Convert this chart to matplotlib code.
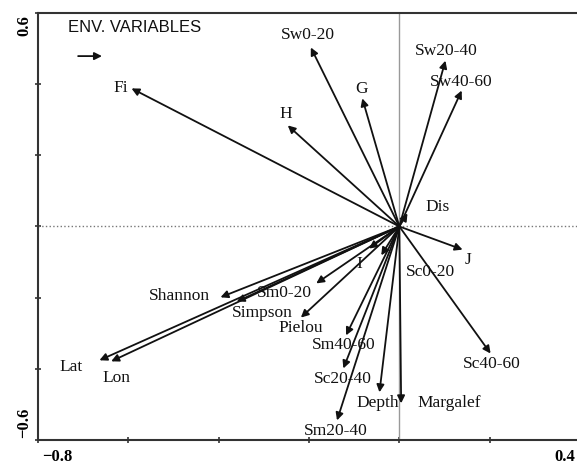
import matplotlib
matplotlib.use("Agg")
import matplotlib.pyplot as plt

# biplot scores of the environmental variables (axis 1, axis 2)
names = ["Fi", "H", "Sw0-20", "G", "Sw20-40", "Sw40-60", "Dis", "J", "Sc0-20",
         "Sc40-60", "Margalef", "Depth", "Sm20-40", "Sc20-40", "Sm40-60",
         "Pielou", "Sm0-20", "I", "Shannon", "Simpson", "Lat", "Lon"]
axis1 = [-0.593, -0.247, -0.196, -0.082, 0.102, 0.138, 0.018, 0.140, -0.040,
         0.202, 0.004, -0.044, -0.138, -0.124, -0.118,
         -0.218, -0.184, -0.067, -0.396, -0.360, -0.664, -0.638]
axis2 = [0.388, 0.284, 0.503, 0.360, 0.466, 0.382, 0.037, -0.065, -0.081,
         -0.357, -0.497, -0.466, -0.545, -0.399, -0.306,
         -0.256, -0.160, -0.062, -0.199, -0.211, -0.376, -0.379]

# where each label sits relative to its arrow tip (pixels)
label_offset = {
    "Fi": (-11, 0), "H": (-2, 11), "Sw0-20": (-3, 12), "G": (-1, 9),
    "Sw20-40": (1, 10), "Sw40-60": (0, 9), "Dis": (30, 6), "J": (5, -10),
    "Sc0-20": (49, -17), "Sc40-60": (1, -10), "Margalef": (48, 0),
    "Depth": (-2, -11), "Sm20-40": (-1, -11), "Sc20-40": (-1, -11),
    "Sm40-60": (-2, -10), "Pielou": (0, -10), "Sm0-20": (-32, -10),
    "I": (-10, -15), "Shannon": (-41, 1), "Simpson": (26, -11),
    "Lat": (-28, -7), "Lon": (5, -17),
}

fig = plt.figure(figsize=(5.77, 4.65), dpi=100)
ax = fig.add_axes([0.0659, 0.0538, 0.9393, 0.9183])
ax.set_xlim(-0.8, 0.4)
ax.set_ylim(-0.6, 0.6)

ax.axhline(0, color="#777777", lw=1, ls=":")
ax.axvline(0, color="#999999", lw=1)

arrow = dict(arrowstyle="-|>", lw=1.3, color="#111111",
             mutation_scale=11, shrinkA=0, shrinkB=0)
for n, x, y in zip(names, axis1, axis2):
    ax.annotate("", xy=(x, y), xytext=(0, 0), arrowprops=arrow)
    dx, dy = label_offset[n]
    ax.annotate(n, xy=(x, y), xytext=(dx, dy), textcoords="offset pixels",
                ha="center", va="center", fontsize=12.5,
                family="Liberation Serif", color="#111111")

# legend caption and key arrow
ax.text(0.055, 0.967, "ENV. VARIABLES", transform=ax.transAxes,
        fontsize=12, family="Liberation Sans", color="#111111",
        ha="left", va="center")
ax.annotate("", xy=(0.118, 0.899), xytext=(0.074, 0.899),
            xycoords="axes fraction", arrowprops=arrow)

for s in ["left", "bottom", "top"]:
    ax.spines[s].set_color("#333333")
    ax.spines[s].set_linewidth(1.5)
ax.spines["right"].set_visible(False)

ax.set_xticks([-0.8, -0.6, -0.4, -0.2, 0, 0.2, 0.4])
ax.set_yticks([-0.6, -0.4, -0.2, 0, 0.2, 0.4, 0.6])
ax.tick_params(direction="inout", length=4, width=1.2, color="#333333",
               labelbottom=False, labelleft=False)

tick_font = dict(family="Liberation Serif", fontsize=12, fontweight="bold")
ax.text(-0.8 + 0.01, -0.625, "\u22120.8", ha="left", va="top", **tick_font)
ax.text(0.4 - 0.01, -0.625, "0.4", ha="right", va="top", **tick_font)
ax.text(-0.83, 0.6 - 0.005, "0.6", rotation=90, ha="center", va="top", **tick_font)
ax.text(-0.83, -0.6 + 0.005, "\u22120.6", rotation=90, ha="center", va="bottom", **tick_font)

fig.savefig("out.png", dpi=100)
